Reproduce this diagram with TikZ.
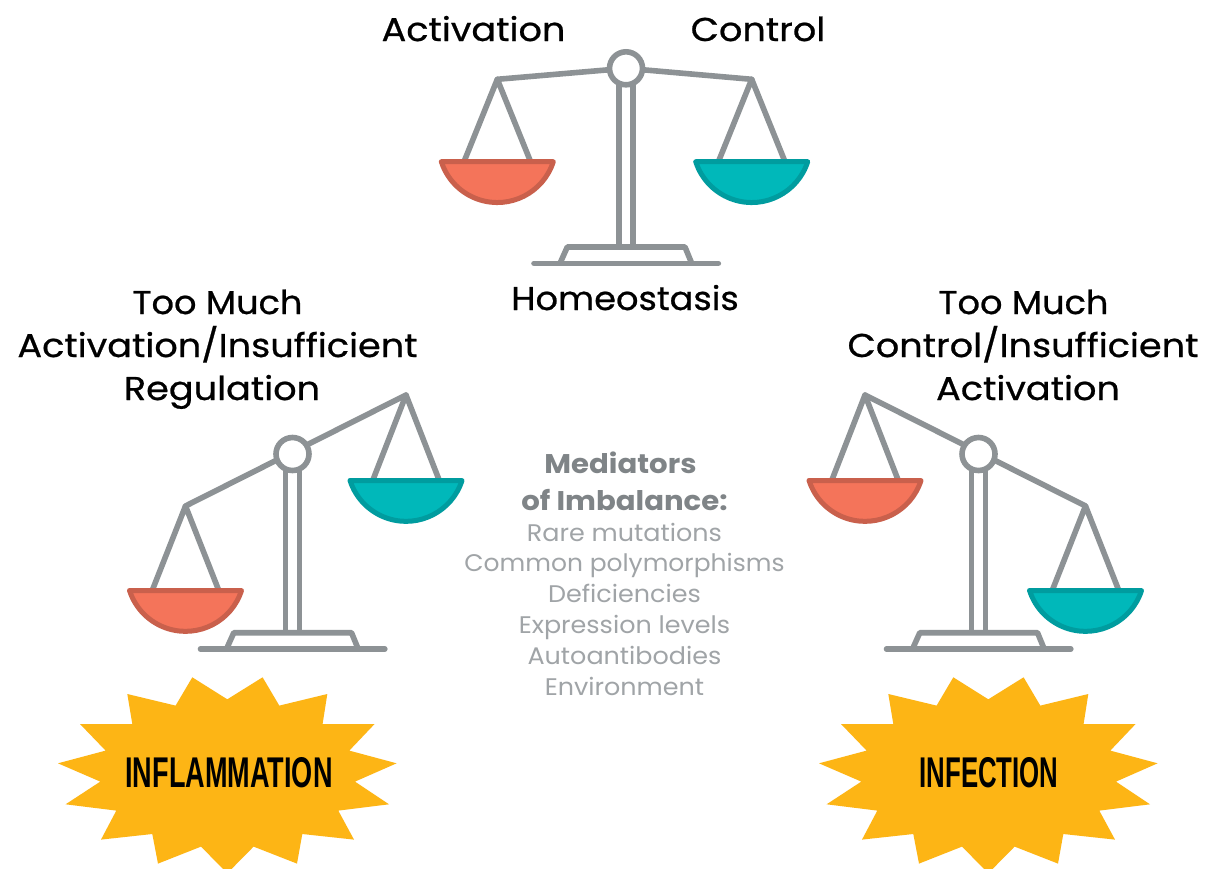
\documentclass[tikz,border=0pt]{standalone}
\usepackage{fontspec}
\setmainfont{Poppins}
\newfontfamily\headfont[FakeStretch=1.11,FakeBold=0.7]{Poppins}
\newfontfamily\headtight[FakeStretch=1.065,FakeBold=0.7]{Poppins}
\newfontfamily\medheadfont[FakeStretch=1.08]{Poppins Bold}
\newfontfamily\medlistfont[FakeStretch=1.06]{Poppins}
\newfontfamily\medlisttight[FakeStretch=1.04]{Poppins}
\newfontfamily\burstfont[FakeStretch=0.63]{Liberation Sans}
\newfontfamily\burstfontB[FakeStretch=0.6]{Liberation Sans}
\definecolor{beamgray}{HTML}{8D9295}
\definecolor{coral}{HTML}{F4745A}
\definecolor{coraldark}{HTML}{C9604C}
\definecolor{teal2}{HTML}{00B8BA}
\definecolor{tealdark}{HTML}{009C9F}
\definecolor{burst}{HTML}{FDB515}
\definecolor{medbold}{HTML}{7F8487}
\definecolor{medlight}{HTML}{A0A4A7}
\tikzset{
  rod/.style={draw=beamgray,line width=5.6pt,line cap=round,line join=round},
  head/.style={font=\headfont\fontsize{33}{36}\selectfont,anchor=base,text=black,inner sep=0pt},
  headshort/.style={font=\headtight\fontsize{33}{36}\selectfont,anchor=base,text=black,inner sep=0pt},
  medhead/.style={font=\medheadfont\fontsize{27}{30}\selectfont,anchor=base,text=medbold,inner sep=0pt},
  medlist/.style={font=\medlistfont\fontsize{24}{28}\selectfont,anchor=base,text=medlight,inner sep=0pt},
  medlistshort/.style={font=\medlisttight\fontsize{24}{28}\selectfont,anchor=base,text=medlight,inner sep=0pt},
  burstlabel/.style={font=\burstfont\bfseries\fontsize{43}{48}\selectfont,anchor=center,text=black,inner sep=0pt},
  burstlabelB/.style={font=\burstfontB\bfseries\fontsize{43}{48}\selectfont,anchor=center,text=black,inner sep=0pt},
  pivot/.style={circle,draw=beamgray,fill=white,line width=5.6pt,minimum size=33pt,inner sep=0pt}
}
% \panat{apex x}{apex y}{pan top y}{fill}{stroke}
\newcommand{\panat}[5]{%
  \draw[rod] (#1-33.3,#3) -- (#1,#2) -- (#1+33.3,#3);
  \draw[draw=#5,fill=#4,line width=5pt,line join=round]
    (#1-56,#3) -- (#1+56,#3) arc[start angle=342.2,end angle=197.8,radius=58.8] -- cycle;
}
% \standat{pivot x}{pivot y}
\newcommand{\standat}[2]{%
  \draw[rod,line cap=butt] (#1-7,#2) -- (#1-7,#2-178.7);
  \draw[rod,line cap=butt] (#1+7,#2) -- (#1+7,#2-178.7);
  \draw[rod] (#1-66,#2-195) -- (#1-58.7,#2-178.7) -- (#1+59,#2-178.7) -- (#1+65.7,#2-195);
  \draw[rod] (#1-92,#2-195) -- (#1+92.3,#2-195);
}
% \burstat{cx}{cy}: offsets in reference pixels
\newcommand{\burstat}[2]{%
  \fill[burst] (#1-35,#2+86) -- (#1,#2+64) -- (#1+35.3,#2+86) -- (#1+52,#2+57.7)
   -- (#1+100,#2+69.3) -- (#1+95.3,#2+39.3) -- (#1+147.3,#2+39.3) -- (#1+122,#2+12.7)
   -- (#1+169.3,#2) -- (#1+127.7,#2-18.3) -- (#1+161.7,#2-41) -- (#1+111,#2-47.3)
   -- (#1+126.7,#2-76.3) -- (#1+75,#2-70.7) -- (#1+69.7,#2-100.3) -- (#1+26.3,#2-83.3)
   -- (#1,#2-110) -- (#1-26.3,#2-83.3) -- (#1-69.3,#2-100.3) -- (#1-75,#2-70.7)
   -- (#1-126.3,#2-76.3) -- (#1-111,#2-47.3) -- (#1-161.7,#2-41) -- (#1-127,#2-18.3)
   -- (#1-169.3,#2) -- (#1-121.7,#2+12.7) -- (#1-147.3,#2+39.3) -- (#1-95,#2+39.3)
   -- (#1-100,#2+69.3) -- (#1-51.7,#2+57.7) -- cycle;
}
\begin{document}
\begin{tikzpicture}[x=1pt,y=1pt]
\useasboundingbox (0,-868) rectangle (1206,0);
\clip (0,-868) rectangle (1206,0);
\fill[white] (0,-868) rectangle (1206,0);

% top scale
\panat{497.3}{-79.3}{-161.7}{coral}{coraldark}
\panat{751.7}{-79.3}{-161.7}{teal2}{tealdark}
\standat{626}{-68.3}
\draw[rod] (497.3,-79.3) -- (626,-68.3) -- (751.7,-79.3);
\node[pivot] (pivotA) at (626,-68.3) {};

% left scale
\panat{185.5}{-506}{-590.5}{coral}{coraldark}
\panat{406}{-395}{-480.5}{teal2}{tealdark}
\standat{292.5}{-454}
\draw[rod] (185.5,-506) -- (406,-395);
\node[pivot] (pivotB) at (292.5,-454) {};

% right scale
\panat{865}{-395}{-480.5}{coral}{coraldark}
\panat{1085.5}{-506}{-590.5}{teal2}{tealdark}
\standat{978.5}{-454}
\draw[rod] (865,-395) -- (1085.5,-506);
\node[pivot] (pivotC) at (978.5,-454) {};

% bursts
\burstat{227.3}{-763.3}
\burstat{988.3}{-763.3}
\node[burstlabel] (infl) at (229,-772.5) {INFLAMMATION};
\node[burstlabelB] (infe) at (989,-772.5) {INFECTION};

% headings
\node[head] (act) at (473.5,-41) {Activation};
\node[head] (ctl) at (758,-41) {Control};
\node[headshort] (hom) at (625,-310) {Homeostasis};
\node[headshort] (l1) at (217.5,-314) {Too Much};
\node[head] (l2) at (217.5,-357) {Activation/Insufficient};
\node[head] (l3) at (222,-400) {Regulation};
\node[headshort] (r1) at (1023.5,-314) {Too Much};
\node[head] (r2) at (1023,-357) {Control/Insufficient};
\node[head] (r3) at (1028,-400) {Activation};

% mediators
\node[medhead] (m1) at (620.5,-473) {Mediators};
\node[medhead] (m2) at (624.5,-510) {of Imbalance:};
\node[medlist] (i1) at (624.5,-541) {Rare mutations};
\node[medlistshort] (i2) at (624.5,-571) {Common polymorphisms};
\node[medlist] (i3) at (624.5,-602) {Deficiencies};
\node[medlist] (i4) at (624.5,-633) {Expression levels};
\node[medlist] (i5) at (624.5,-664) {Autoantibodies};
\node[medlist] (i6) at (624.5,-695) {Environment};
\end{tikzpicture}
\end{document}
